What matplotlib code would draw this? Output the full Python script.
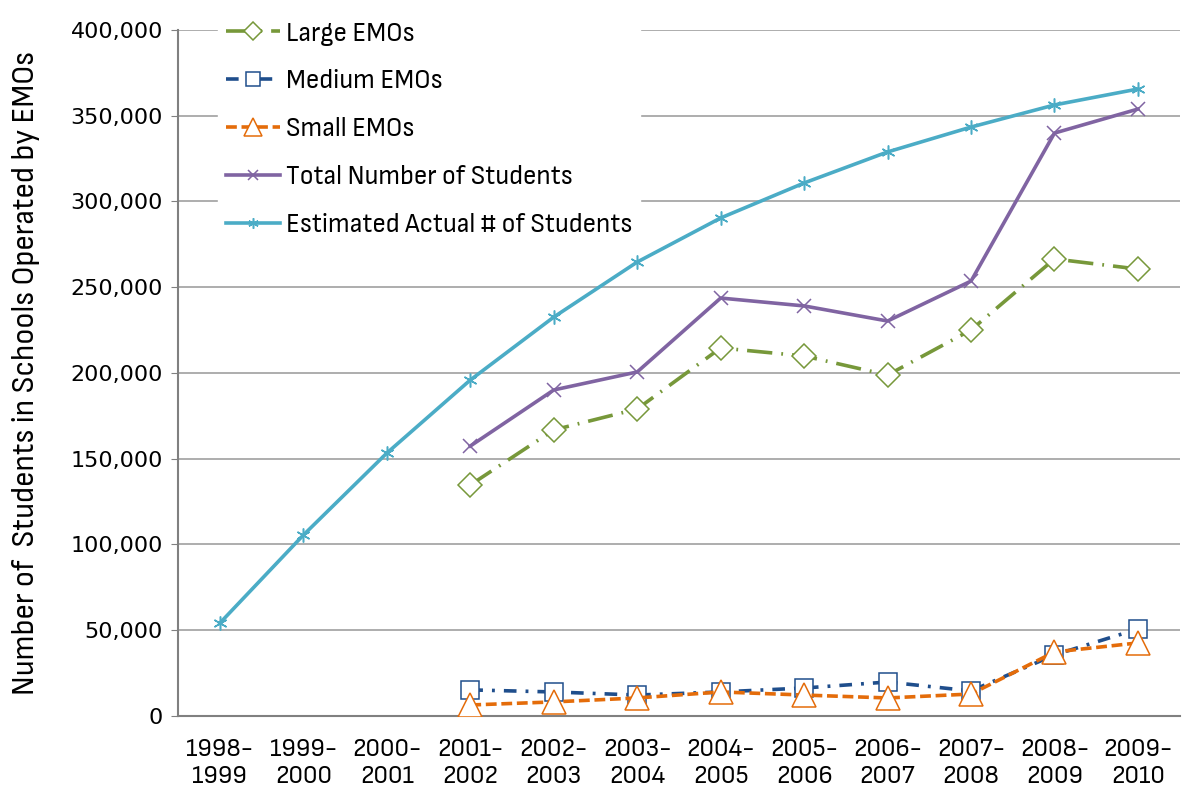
import numpy as np
import matplotlib
matplotlib.use("Agg")
import matplotlib.pyplot as plt
from matplotlib.ticker import FuncFormatter

years = ["1998-\n1999", "1999-\n2000", "2000-\n2001", "2001-\n2002", "2002-\n2003",
         "2003-\n2004", "2004-\n2005", "2005-\n2006", "2006-\n2007", "2007-\n2008",
         "2008-\n2009", "2009-\n2010"]

# EMO series start in 2001-2002 (index 3)
large = [134700, 166800, 179000, 214600, 209900, 198800, 225100, 266500, 260600]
medium = [15200, 14000, 12200, 14000, 16300, 19800, 14600, 35600, 50700]
small = [6400, 8200, 10500, 14000, 12200, 10500, 12800, 37300, 42600]
total = [157400, 190100, 200600, 243700, 239100, 230300, 253600, 339900, 353900]
estimated = [54200, 105500, 153300, 195900, 232600, 264700, 290400, 310800,
             328900, 343400, 356300, 365600]

narrow = ["Sofia Sans Semi Condensed", "PT Sans Narrow", "DejaVu Sans"]

fig = plt.figure(figsize=(11.88, 7.98), dpi=100)
ax = fig.add_axes([0.150, 0.1028, 0.843, 0.8596])

x_all = np.arange(len(years))
x_emo = x_all[3:]

ax.plot(x_emo, large, color="#77983a", lw=2.6, dashes=(7, 2.5, 0.5, 2.5),
        marker="D", ms=12, mfc="white", mec="#77983a", mew=1.1,
        label="Large EMOs", zorder=3)
ax.plot(x_emo, medium, color="#1f4e8c", lw=2.6, dashes=(3.5, 2.5, 0.8, 2.5),
        marker="s", ms=13, mfc="white", mec="#1f4e8c", mew=1.1,
        label="Medium EMOs", zorder=3)
ax.plot(x_emo, small, color="#e46c0a", lw=2.6, dashes=(3, 1.3),
        marker="^", ms=17, mfc="white", mec="#e46c0a", mew=1.1,
        label="Small EMOs", zorder=4)
ax.plot(x_emo, total, color="#8064a2", lw=2.6, marker="x", ms=10,
        mew=1.1, label="Total Number of Students", zorder=3)
ax.plot(x_all, estimated, color="#4bacc6", lw=2.6, marker=(6, 2, 0), ms=10,
        mew=1.1, label="Estimated Actual # of Students", zorder=3)

ax.set_xlim(-0.5, 11.5)
ax.set_ylim(0, 400000)
ax.set_yticks(np.arange(0, 400001, 50000))
ax.yaxis.set_major_formatter(FuncFormatter(lambda v, p: f"{int(v):,}"))
ax.set_xticks(x_all)
ax.set_xticklabels(years, family=narrow, fontsize=19, linespacing=1.2)
for lbl in ax.get_yticklabels():
    lbl.set_fontsize(16)
ax.tick_params(axis="x", length=0, pad=16)
ax.tick_params(axis="y", length=5, color="#808080", pad=6)
ax.grid(axis="y", color="#a0a0a0", lw=1.2)
ax.set_axisbelow(True)
for s in ["top", "right"]:
    ax.spines[s].set_visible(False)
for s in ["left", "bottom"]:
    ax.spines[s].set_color("#808080")
    ax.spines[s].set_linewidth(1.5)

ax.set_ylabel("Number of  Students in Schools Operated by EMOs", family=narrow,
              fontsize=22.5)
ax.yaxis.set_label_coords(-0.138, 0.5)

leg = fig.legend(loc="upper left", bbox_to_anchor=(0.172, 1.0), frameon=True,
                 fancybox=False, edgecolor="white", framealpha=1,
                 prop={"family": narrow, "size": 19.5}, handlelength=2.0,
                 handletextpad=0.2, labelspacing=0.88, borderpad=0.3,
                 markerscale=0.75)
leg.set_zorder(10)

fig.savefig("out.png", dpi=100)
